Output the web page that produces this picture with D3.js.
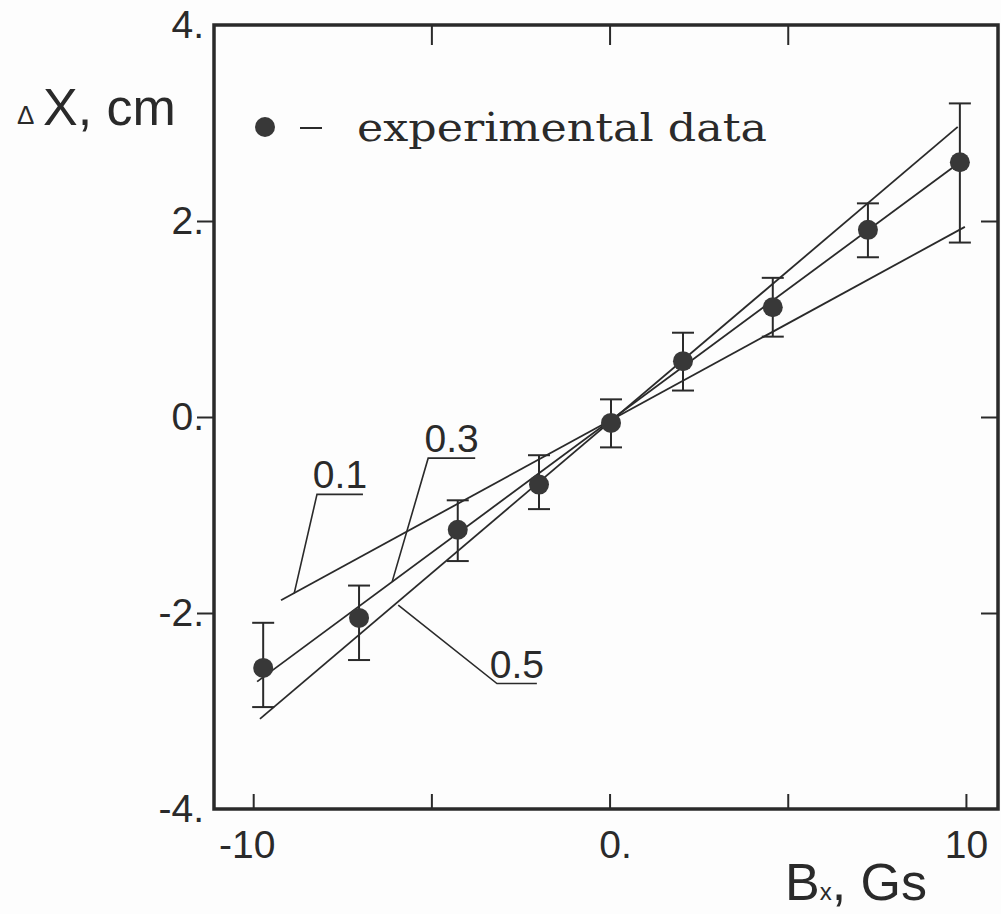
<!DOCTYPE html>
<html>
<head>
<meta charset="utf-8">
<script src="https://cdn.jsdelivr.net/npm/d3@7"></script>
<style>
  html, body { margin: 0; padding: 0; background: #fdfdfd; }
  svg { display: block; }
</style>
</head>
<body>
<div id="chart"></div>
<script>
// data (Bx in Gs, deltaX in cm)
const bx = [-9.72, -7.03, -4.26, -1.98, 0.04, 2.06, 4.58, 7.25, 9.83];
const dx = [-2.56, -2.05, -1.15, -0.69, -0.06, 0.57, 1.12, 1.91, 2.60];
const dxHigh = [-2.10, -1.72, -0.85, -0.39, 0.18, 0.86, 1.42, 2.18, 3.20];
const dxLow = [-2.96, -2.48, -1.47, -0.94, -0.31, 0.27, 0.82, 1.63, 1.78];

// model lines, one per parameter value
const lineLabels = ["0.1", "0.3", "0.5"];
const lineStart = [[-9.22, -1.87], [-9.89, -2.70], [-9.81, -3.08]];
const lineEnd = [[9.97, 1.94], [9.83, 2.60], [9.77, 2.96]];

// leader lines for the labels: point on line -> elbow -> end of underline
const leaderFrom = [[-8.85, -1.80], [-6.10, -1.68], [-5.93, -1.92]];
const leaderElbow = [[-8.21, -0.79], [-5.09, -0.42], [-3.16, -2.72]];
const leaderTo = [[-6.92, -0.79], [-3.77, -0.42], [-2.04, -2.72]];

const xTicks = [-10, -5, 0, 5, 10];
const xTickLabels = ["-10", "", "0.", "", "10"];
const xTopTicks = [-5, 0, 5];
const yTicks = [4, 2, 0, -2, -4];
const yTickLabels = ["4.", "2.", "0.", "-2.", "-4."];
const ySideTicks = [2, 0, -2];

const ink = "#2a2a2a";
const sans = "'Liberation Sans', Arial, sans-serif";

const width = 1001;
const height = 914;
const plot = { left: 214, right: 998, top: 25, bottom: 809 };

const svg = d3.select("#chart")
  .append("svg")
  .attr("width", width)
  .attr("height", height);

const x = d3.scaleLinear().domain([-11.1, 10.9]).range([plot.left, plot.right]);
const y = d3.scaleLinear().domain([-4, 4]).range([plot.bottom, plot.top]);

// axes (ticks point inward)
const styleAxis = (g) => {
  g.select(".domain").remove();
  g.selectAll(".tick line").attr("stroke", ink).attr("stroke-width", 2);
  g.selectAll(".tick text")
    .attr("fill", ink)
    .attr("font-family", sans)
    .attr("font-size", 39);
};

svg.append("g")
  .attr("transform", `translate(0,${plot.bottom})`)
  .call(d3.axisBottom(x).tickValues(xTicks).tickSize(-15).tickPadding(21)
    .tickFormat((d, i) => xTickLabels[i]))
  .call(styleAxis)
  .call((g) => g.selectAll(".tick text")
    .attr("dx", (d, i) => {
      const s = xTickLabels[i];
      const shift = (s.includes(".") ? 0.278 : 0) - (s.startsWith("-") ? 0.333 : 0);
      return shift / 2 + "em";
    }));

svg.append("g")
  .attr("transform", `translate(0,${plot.top})`)
  .call(d3.axisTop(x).tickValues(xTopTicks).tickSize(-20).tickFormat(""))
  .call(styleAxis);

svg.append("g")
  .attr("transform", `translate(${plot.left},0)`)
  .call(d3.axisLeft(y).tickValues(yTicks).tickSize(-17).tickPadding(10)
    .tickFormat((d, i) => yTickLabels[i]))
  .call(styleAxis)
  .call((g) => g.selectAll(".tick line").attr("x2", (d) => (d === 4 || d === -4 ? 0 : -17)));

svg.append("g")
  .attr("transform", `translate(${plot.right},0)`)
  .call(d3.axisRight(y).tickValues(ySideTicks).tickSize(-17).tickFormat(""))
  .call(styleAxis);

// frame
svg.append("rect")
  .attr("x", plot.left)
  .attr("y", plot.top)
  .attr("width", plot.right - plot.left)
  .attr("height", plot.bottom - plot.top)
  .attr("fill", "none")
  .attr("stroke", ink)
  .attr("stroke-width", 3.5);

// model lines
const lines = svg.append("g").attr("class", "model-lines");
lines.selectAll("line")
  .data(lineLabels)
  .join("line")
  .attr("x1", (d, i) => x(lineStart[i][0]))
  .attr("y1", (d, i) => y(lineStart[i][1]))
  .attr("x2", (d, i) => x(lineEnd[i][0]))
  .attr("y2", (d, i) => y(lineEnd[i][1]))
  .attr("stroke", ink)
  .attr("stroke-width", 1.8);

// label leaders with underline
const labels = svg.append("g").attr("class", "line-labels");
labels.selectAll("polyline")
  .data(lineLabels)
  .join("polyline")
  .attr("points", (d, i) => [leaderFrom[i], leaderElbow[i], leaderTo[i]]
    .map((p) => `${x(p[0])},${y(p[1])}`).join(" "))
  .attr("fill", "none")
  .attr("stroke", ink)
  .attr("stroke-width", 1.6);

labels.selectAll("text")
  .data(lineLabels)
  .join("text")
  .attr("x", (d, i) => (x(leaderElbow[i][0]) + x(leaderTo[i][0])) / 2)
  .attr("y", (d, i) => y(leaderElbow[i][1]) - 6)
  .attr("text-anchor", "middle")
  .attr("font-family", sans)
  .attr("font-size", 39)
  .attr("fill", ink)
  .text((d) => d);

// experimental points with error bars
const pts = svg.append("g").attr("class", "points");
const idx = d3.range(bx.length);
const cap = 11;

pts.selectAll("line.err")
  .data(idx)
  .join("line")
  .attr("class", "err")
  .attr("x1", (i) => x(bx[i]))
  .attr("x2", (i) => x(bx[i]))
  .attr("y1", (i) => y(dxHigh[i]))
  .attr("y2", (i) => y(dxLow[i]))
  .attr("stroke", ink)
  .attr("stroke-width", 2);

pts.selectAll("line.cap-hi")
  .data(idx)
  .join("line")
  .attr("class", "cap-hi")
  .attr("x1", (i) => x(bx[i]) - cap)
  .attr("x2", (i) => x(bx[i]) + cap)
  .attr("y1", (i) => y(dxHigh[i]))
  .attr("y2", (i) => y(dxHigh[i]))
  .attr("stroke", ink)
  .attr("stroke-width", 2);

pts.selectAll("line.cap-lo")
  .data(idx)
  .join("line")
  .attr("class", "cap-lo")
  .attr("x1", (i) => x(bx[i]) - cap)
  .attr("x2", (i) => x(bx[i]) + cap)
  .attr("y1", (i) => y(dxLow[i]))
  .attr("y2", (i) => y(dxLow[i]))
  .attr("stroke", ink)
  .attr("stroke-width", 2);

pts.selectAll("circle")
  .data(idx)
  .join("circle")
  .attr("cx", (i) => x(bx[i]))
  .attr("cy", (i) => y(dx[i]))
  .attr("r", 10)
  .attr("fill", "#383838");

// legend
const legend = svg.append("g").attr("class", "legend");
legend.append("circle")
  .attr("cx", 265)
  .attr("cy", 127)
  .attr("r", 10)
  .attr("fill", "#383838");
legend.append("line")
  .attr("x1", 300).attr("x2", 322)
  .attr("y1", 128).attr("y2", 128)
  .attr("stroke", ink)
  .attr("stroke-width", 2);
legend.append("text")
  .attr("x", 357)
  .attr("y", 141)
  .attr("font-family", "'DejaVu Serif', serif")
  .attr("font-size", 39)
  .attr("fill", ink)
  .attr("textLength", 410)
  .attr("lengthAdjust", "spacingAndGlyphs")
  .text("experimental data");

// axis titles
const yTitle = svg.append("text")
  .attr("x", 17)
  .attr("y", 124)
  .attr("font-family", sans)
  .attr("fill", ink);
yTitle.append("tspan").attr("font-size", 26).text("Δ");
yTitle.append("tspan").attr("x", 43).attr("y", 125).attr("font-size", 52).text("X, cm");

const xTitle = svg.append("text")
  .attr("x", 785)
  .attr("y", 900)
  .attr("font-family", sans)
  .attr("fill", ink);
xTitle.append("tspan").attr("font-size", 52).text("B");
xTitle.append("tspan").attr("font-size", 24).text("x");
xTitle.append("tspan").attr("font-size", 52).text(", Gs");
</script>
</body>
</html>
